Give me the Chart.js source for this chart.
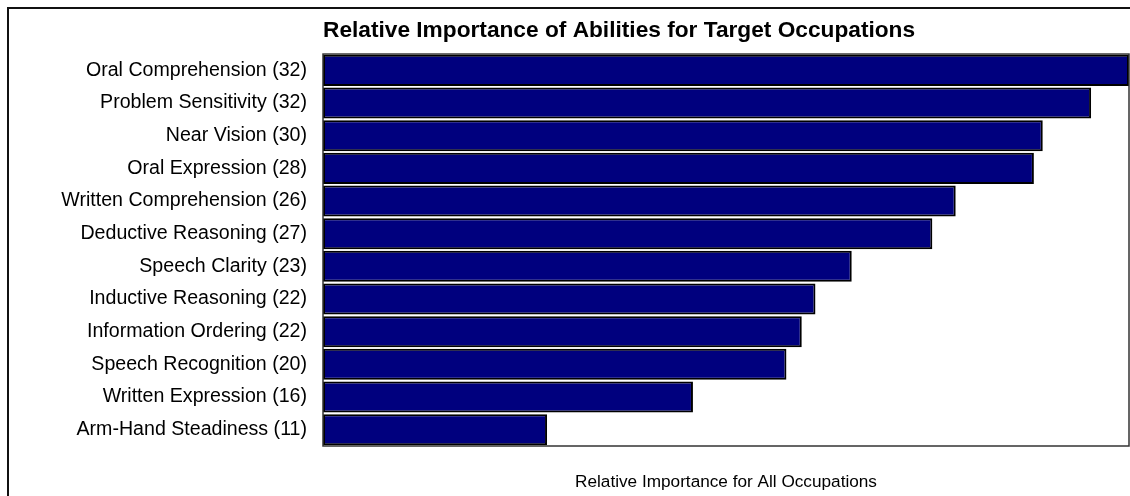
<!DOCTYPE html>
<html>
<head>
<meta charset="utf-8">
<script src="https://cdn.jsdelivr.net/npm/chart.js@4/dist/chart.umd.min.js"></script>
<style>
  html, body { margin: 0; padding: 0; background: #ffffff; }
  canvas { display: block; }
</style>
</head>
<body>
<canvas id="chart" width="1130" height="496"></canvas>
<script>
// Abilities ranked by relative importance, with the count shown in each label
const abilityNames = [
  'Oral Comprehension', 'Problem Sensitivity', 'Near Vision', 'Oral Expression',
  'Written Comprehension', 'Deductive Reasoning', 'Speech Clarity', 'Inductive Reasoning',
  'Information Ordering', 'Speech Recognition', 'Written Expression', 'Arm-Hand Steadiness'
];
const abilityCounts = [32, 32, 30, 28, 26, 27, 23, 22, 22, 20, 16, 11];
const importanceValues = [100, 95.3, 89.3, 88.2, 78.5, 75.6, 65.6, 61.1, 59.4, 57.5, 45.9, 27.8];
const axisMin = 0;
const axisMax = 100;

const categoryLabels = abilityNames.map((name, i) => `${name} (${abilityCounts[i]})`);

const FONT = "Arial, 'Liberation Sans', sans-serif";

// Outer page frame plus the box around the plotting area
const framePlugin = {
  id: 'frames',
  beforeDraw(chart) {
    const ctx = chart.ctx;
    ctx.save();
    ctx.fillStyle = '#ffffff';
    ctx.fillRect(0, 0, chart.width, chart.height);
    ctx.strokeStyle = '#111111';
    ctx.lineWidth = 2;
    ctx.beginPath();
    ctx.moveTo(8, chart.height);
    ctx.lineTo(8, 8);
    ctx.lineTo(chart.width, 8);
    ctx.stroke();
    ctx.restore();
  },
  afterDatasetsDraw(chart) {
    const a = chart.chartArea;
    const ctx = chart.ctx;
    ctx.save();
    ctx.strokeStyle = '#333333';
    ctx.lineWidth = 1.5;
    ctx.strokeRect(a.left, a.top, a.right - a.left, a.bottom - a.top);
    ctx.restore();
  }
};

new Chart(document.getElementById('chart'), {
  type: 'bar',
  data: {
    labels: categoryLabels,
    datasets: [{
      data: importanceValues,
      backgroundColor: '#00007e',
      borderColor: '#000000',
      borderWidth: 2,
      borderSkipped: false,
      barPercentage: 0.95,
      categoryPercentage: 1.0
    }]
  },
  options: {
    indexAxis: 'y',
    responsive: false,
    animation: false,
    layout: { padding: { top: 0, right: 1, bottom: 0, left: 0 } },
    plugins: {
      legend: { display: false },
      tooltip: { enabled: false },
      title: {
        display: true,
        text: 'Relative Importance of Abilities for Target Occupations',
        align: 'start',
        fullSize: false,
        color: '#000000',
        font: { family: FONT, size: 22.7, weight: 'bold' },
        padding: { top: 17, bottom: 9.8 }
      }
    },
    scales: {
      x: {
        min: axisMin,
        max: axisMax,
        grid: { display: false, drawTicks: false },
        border: { display: false },
        ticks: { display: false },
        title: {
          display: true,
          text: 'Relative Importance for All Occupations',
          color: '#000000',
          font: { family: FONT, size: 17.2 },
          padding: { top: 0, bottom: 3 }
        },
        afterFit(scale) { scale.height = 50; }
      },
      y: {
        grid: { display: false, drawTicks: false },
        border: { display: false },
        ticks: {
          color: '#000000',
          padding: 16,
          autoSkip: false,
          font: { family: FONT, size: 19.6 }
        },
        afterFit(scale) { scale.width = 323; }
      }
    }
  },
  plugins: [framePlugin]
});
</script>
</body>
</html>
